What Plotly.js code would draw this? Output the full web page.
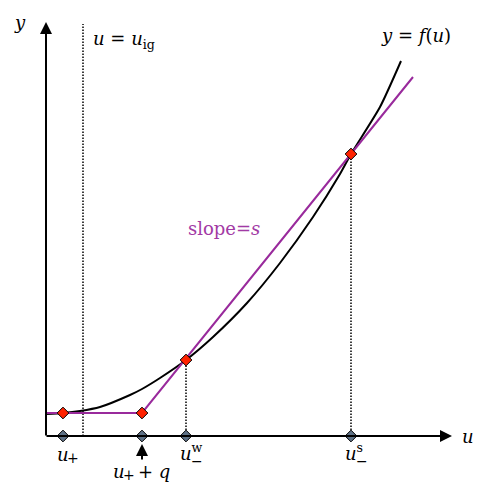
<!DOCTYPE html>
<html>
<head>
<meta charset="utf-8">
<script src="https://cdn.plot.ly/plotly-3.0.1.min.js"></script>
<style>body{margin:0;background:#fff}</style>
</head>
<body>
<div id="plot" style="width:491px;height:485px"></div>
<script>
// curve y = f(u)
var curveU = [0, 0.17, 0.34, 0.54, 0.84, 0.96, 1.14, 1.40, 1.67, 2.01, 2.34, 2.67, 2.94, 3.05, 3.34, 3.55];
var curveY = [0.22, 0.23, 0.25, 0.29, 0.41, 0.47, 0.58, 0.76, 0.99, 1.33, 1.73, 2.19, 2.62, 2.82, 3.29, 3.75];

// the purple chord: flat part then slope s
var chordU = [0, 0.96, 3.67];
var chordY = [0.23, 0.23, 3.59];

// special points
var uPlus = 0.17, uPlusQ = 0.96, uW = 1.40, uS = 3.05, uIg = 0.37;
var fPlus = 0.23, fW = 0.76, fS = 2.82;
var redU = [uPlus, uPlusQ, uW, uS];
var redY = [fPlus, fPlus, fW, fS];
var axisU = [uPlus, uPlusQ, uW, uS];
var axisY = [0, 0, 0, 0];

var serif = 'DejaVu Serif';
var purple = '#992a9c';

var dotted = {color: 'black', width: 1.5, dash: '1.5px,1.5px'};
var data = [
    {x: [uIg, uIg], y: [0, 4.12], mode: 'lines', line: dotted},
    {x: [uW, uW], y: [0, fW], mode: 'lines', line: dotted},
    {x: [uS, uS], y: [0, fS], mode: 'lines', line: dotted},
    {x: curveU, y: curveY, mode: 'lines', line: {color: 'black', width: 2, shape: 'spline', smoothing: 0.6}},
    {x: chordU, y: chordY, mode: 'lines', line: {color: purple, width: 2}},
    {x: redU, y: redY, mode: 'markers',
     marker: {symbol: 'diamond', size: 9, color: '#ff2200', line: {color: 'black', width: 1}}},
    {x: axisU, y: axisY, mode: 'markers', cliponaxis: false,
     marker: {symbol: 'diamond', size: 9, color: '#5e7186', line: {color: 'black', width: 1}}}
];

function label(x, y, text, opts) {
    var a = {x: x, y: y, text: text, showarrow: false,
             font: {family: serif, size: 18, color: 'black'}};
    for (var k in opts) a[k] = opts[k];
    return a;
}
var small = {family: serif, size: 14, color: 'black'};

var annotations = [
    // axes arrows
    {x: 4.06, y: 0, ax: -0.01, ay: 0, axref: 'x', ayref: 'y', text: '', showarrow: true,
     arrowhead: 2, arrowsize: 1.2, arrowwidth: 2, arrowcolor: 'black'},
    {x: 0, y: 4.14, ax: 0, ay: -0.01, axref: 'x', ayref: 'y', text: '', showarrow: true,
     arrowhead: 2, arrowsize: 1.2, arrowwidth: 2, arrowcolor: 'black'},
    // small arrow under u+ + q
    {x: uPlusQ, y: -0.08, ax: uPlusQ, ay: -0.25, axref: 'x', ayref: 'y', text: '', showarrow: true,
     arrowhead: 2, arrowsize: 1.2, arrowwidth: 2, arrowcolor: 'black'},
    label(-0.26, 4.14, '<i>y</i>'),
    label(4.22, 0.0, '<i>u</i>'),
    label(0.45, 3.96, '<i>u</i> = <i>u</i><sub>ig</sub>', {xanchor: 'left'}),
    label(3.70, 4.01, '<i>y</i> = <i>f</i>(<i>u</i>)'),
    label(1.78, 2.08, 'slope=<i>s</i>', {font: {family: serif, size: 18, color: '#a23aa5'}}),
    label(uPlus - 0.08, -0.18, '<i>u</i>', {xanchor: 'left'}),
    label(uPlus + 0.02, -0.215, '+', {xanchor: 'left', font: small}),
    label(uPlusQ - 0.31, -0.35, '<i>u</i>', {xanchor: 'left'}),
    label(uPlusQ - 0.21, -0.385, '+', {xanchor: 'left', font: small}),
    label(uPlusQ - 0.06, -0.35, '+ <i>q</i>', {xanchor: 'left'}),
    label(uW - 0.08, -0.16, '<i>u</i><sup>w</sup>', {xanchor: 'left'}),
    label(uW + 0.03, -0.25, '−', {xanchor: 'left', font: small}),
    label(uS - 0.08, -0.16, '<i>u</i><sup>s</sup>', {xanchor: 'left'}),
    label(uS + 0.03, -0.25, '−', {xanchor: 'left', font: small})
];

var layout = {
    width: 491, height: 485,
    margin: {l: 0, r: 0, t: 0, b: 0},
    showlegend: false,
    font: {family: serif},
    paper_bgcolor: 'white', plot_bgcolor: 'white',
    xaxis: {range: [-0.46, 4.45], visible: false, fixedrange: true},
    yaxis: {range: [-0.49, 4.36], visible: false, fixedrange: true},
    annotations: annotations
};
Plotly.newPlot('plot', data, layout, {staticPlot: true});
</script>
</body>
</html>
